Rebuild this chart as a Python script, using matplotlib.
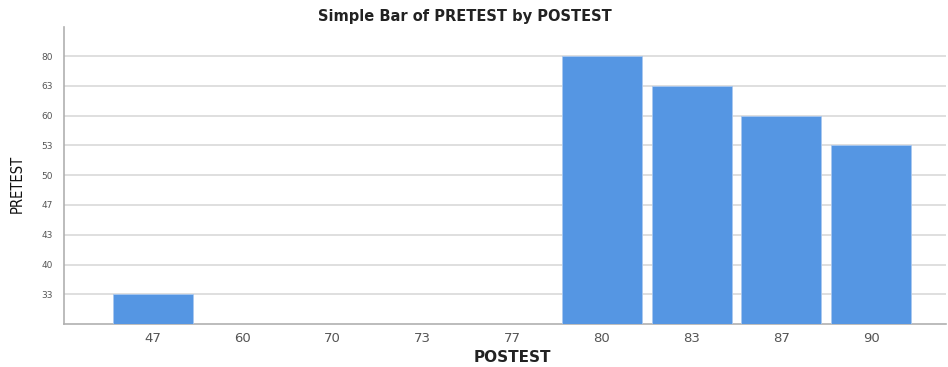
import matplotlib
matplotlib.use("Agg")
import matplotlib.pyplot as plt

# 데이터
postest = ["47", "60", "70", "73", "77", "80", "83", "87", "90"]
pretest_levels = ["33", "40", "43", "47", "50", "53", "60", "63", "80"]
pretest = ["33", None, None, None, None, "80", "63", "60", "53"]

bar_color = "#5596e3"
grid_color = "#d9d9d9"

plt.rcParams["font.family"] = ["DejaVu Sans"]

fig = plt.figure(figsize=(9.48, 3.67), dpi=100)
ax = fig.add_axes([0.0675, 0.117, 0.93, 0.809])

# 범주형 y축: 각 PRETEST 값의 순서 위치(1부터)
for i, val in enumerate(pretest):
    if val is None:
        continue
    h = pretest_levels.index(val) + 1
    ax.bar(i, h, width=0.89, color=bar_color, edgecolor="#a9c8ef", linewidth=0.6, zorder=3)

ax.set_xlim(-0.99, 8.83)
ax.set_ylim(0, 9.97)
ax.set_xticks(range(len(postest)))
ax.set_xticklabels(postest, fontsize=9.5, color="#555555")
ax.set_yticks(range(1, len(pretest_levels) + 1))
ax.set_yticklabels(pretest_levels, fontsize=6.5, color="#555555")
ax.tick_params(length=0, pad=6)
ax.tick_params(axis="y", pad=8)

ax.grid(axis="y", color=grid_color, linewidth=1.2, zorder=0)
for s in ["top", "right"]:
    ax.spines[s].set_visible(False)
for s in ["left", "bottom"]:
    ax.spines[s].set_color("#b0b0b0")
    ax.spines[s].set_linewidth(1.2)

fig.text(0.49, 0.955, "Simple Bar of PRETEST by POSTEST", ha="center", va="center",
         fontsize=10.5, fontweight="bold", color="#222222")
fig.text(0.541, 0.025, "POSTEST", ha="center", va="center",
         fontsize=11, fontweight="bold", color="#222222")
fig.text(0.018, 0.5, "PRETEST", ha="center", va="center", rotation=90,
         fontsize=10.5, color="#111111", fontstretch="condensed")

fig.savefig("out.png", dpi=100)
